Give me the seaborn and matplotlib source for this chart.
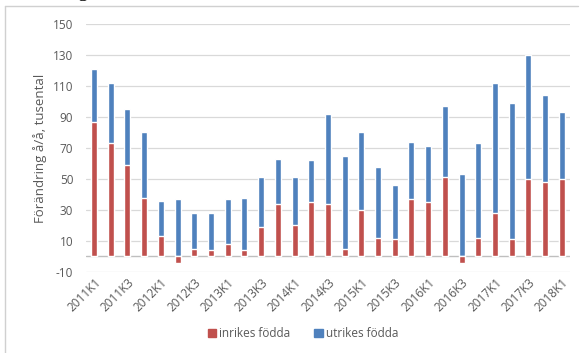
import numpy as np
import pandas as pd
import matplotlib
matplotlib.use("Agg")
import matplotlib.pyplot as plt
import seaborn as sns
from matplotlib.lines import Line2D
from matplotlib.patches import Patch

# quarterly change, thousands
quarters = [f"{y}K{q}" for y in range(2011, 2018) for q in range(1, 5)] + ["2018K1"]
inrikes = [87, 73, 59, 38, 13, -4, 5, 4, 8, 4, 19, 34, 20, 35, 34, 5, 30, 12, 11,
           37, 35, 51, -4, 12, 28, 11, 50, 48, 50]
utrikes = [34, 39, 36, 42, 23, 37, 23, 24, 29, 34, 32, 29, 31, 27, 58, 60, 50, 46, 35,
           37, 36, 46, 53, 61, 84, 88, 80, 56, 43]
yticks = [-10, 10, 30, 50, 70, 90, 110, 130, 150]

red = "#C0504D"
blue = "#4F81BD"
grey = "#595959"

df = pd.DataFrame({"Kvartal": quarters, "inrikes": inrikes, "utrikes": utrikes})
# blue stacks on top of the red part only when red is positive
df["topp"] = df["utrikes"] + df["inrikes"].clip(lower=0)

sns.set_theme(style="white")
plt.rcParams["font.family"] = ["Open Sans", "DejaVu Sans"]

fig = plt.figure(figsize=(5.83, 3.53), dpi=100)
ax = fig.add_axes([0.147, 0.2295, 0.831, 0.7025])

sns.barplot(data=df, x="Kvartal", y="topp", color=blue, width=0.36,
            saturation=1, ax=ax, zorder=3)
sns.barplot(data=df, x="Kvartal", y="inrikes", color=red, width=0.36,
            saturation=1, ax=ax, zorder=4)

ax.set_ylim(-10, 150)
ax.set_xlim(-0.5, len(quarters) - 0.5)
ax.set_yticks(yticks)
ax.set_yticklabels([str(t) for t in yticks], fontsize=8.5, color=grey)
for t in yticks:
    ax.axhline(t, color="#D9D9D9", lw=0.9, zorder=1)
ax.axhline(0, color="#BFBFBF", lw=1.0, zorder=2)

ax.set_xticks(range(0, len(quarters), 2))
ax.set_xticklabels(quarters[::2], rotation=45, ha="right",
                   rotation_mode="anchor", fontsize=8.5, color=grey)
ax.tick_params(axis="both", length=0, pad=3)
ax.tick_params(axis="y", pad=9)
for s in ax.spines.values():
    s.set_visible(False)
ax.set_xlabel("")
ax.set_ylabel("Förändring å/å, tusental", fontsize=9.5, color=grey, labelpad=4)

handles = [Patch(color=red, label="inrikes födda"),
           Patch(color=blue, label="utrikes födda")]
fig.legend(handles=handles, loc="center", bbox_to_anchor=(0.52, 0.054), ncol=2,
           frameon=False, fontsize=8.5, labelcolor=grey, handlelength=0.7,
           handleheight=0.7, handletextpad=0.3, columnspacing=2.0)

# outer chart border (top and left visible)
fig.add_artist(Line2D([5 / 583, 5 / 583], [0, 1 - 6 / 353],
                      transform=fig.transFigure, color="#D0D0D0", lw=1))
fig.add_artist(Line2D([5 / 583, 578 / 583], [1 - 6 / 353, 1 - 6 / 353],
                      transform=fig.transFigure, color="#D0D0D0", lw=1))
# clipped title above the chart
fig.text(88 / 583, 1 + 3 / 353, "Befolkningsförändring", ha="right", va="baseline",
         fontsize=14, family=["Liberation Serif"], color="black")

fig.savefig("out.png", dpi=100)
